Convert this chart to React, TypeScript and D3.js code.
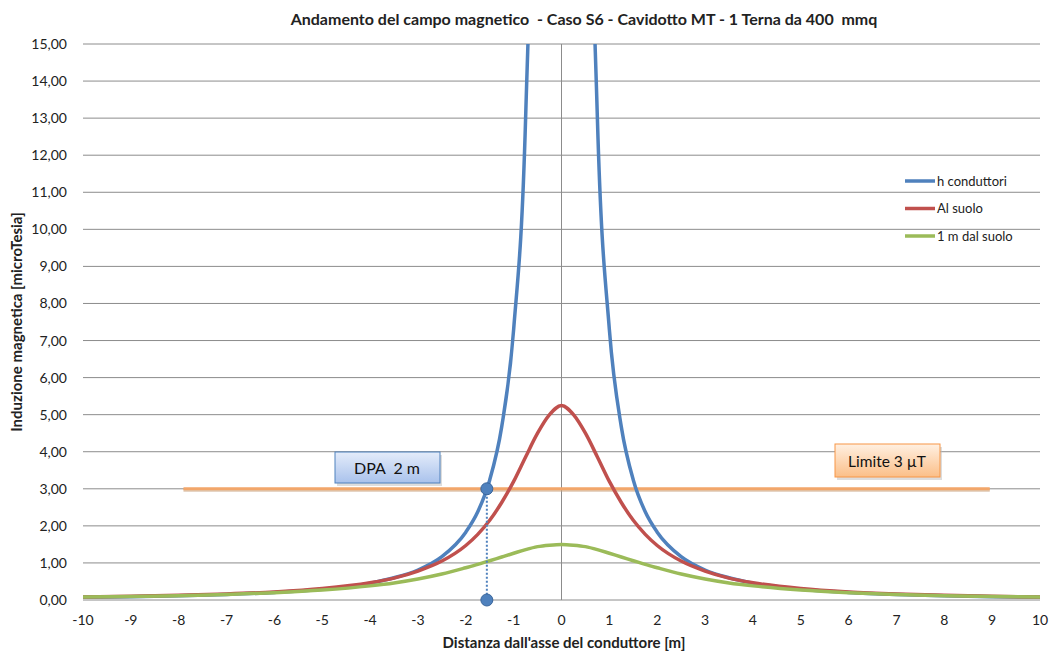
import React from 'react';
import * as d3 from 'd3';

// distance from the cable axis [m]
const xValues = [-10, -9, -8, -7, -6, -5, -4, -3.5, -3, -2.5, -2, -1.75, -1.5, -1.25, -1, -0.75, -0.5, -0.25, 0,
  0.25, 0.5, 0.75, 1, 1.25, 1.5, 1.75, 2, 2.5, 3, 3.5, 4, 5, 6, 7, 8, 9, 10];

// h conduttori (goes off the top near the axis)
const blueHalf = [0.073, 0.09, 0.114, 0.149, 0.203, 0.292, 0.456, 0.6, 0.81, 1.17, 1.83, 2.38, 3.24, 4.67, 7.3, 13.0, 29.2, 117, 400];
// Al suolo
const redHalf = [0.081, 0.099, 0.125, 0.162, 0.218, 0.309, 0.466, 0.59, 0.78, 1.05, 1.47, 1.77, 2.15, 2.63, 3.2, 3.86, 4.5, 5.0, 5.25];
// 1 m dal suolo
const greenHalf = [0.078, 0.095, 0.118, 0.151, 0.198, 0.268, 0.381, 0.46, 0.566, 0.7, 0.87, 0.96, 1.06, 1.16, 1.26, 1.36, 1.44, 1.48, 1.5];

const mirror = (half: number[]) => [...half, ...half.slice(0, -1).reverse()];

const series = [
  { name: 'h conduttori', color: '#4F81BD', values: mirror(blueHalf) },
  { name: 'Al suolo', color: '#C0504D', values: mirror(redHalf) },
  { name: '1 m dal suolo', color: '#9BBB59', values: mirror(greenHalf) },
];

const yTicks = d3.range(0, 16, 1);
const xTicks = d3.range(-10, 11, 1);

const limit = 3;
const limitFrom = -7.9;
const limitTo = 8.95;
const dpaX = -1.56;

const fmt = (v: number) => v.toFixed(2).replace('.', ',');

export default function App() {
  const width = 1051;
  const height = 651;
  const x = d3.scaleLinear().domain([-10, 10]).range([83, 1040]);
  const y = d3.scaleLinear().domain([0, 15]).range([600, 44]);

  const line = d3.line<number>()
    .x((_, i) => x(xValues[i]))
    .y(d => y(d))
    .curve(d3.curveMonotoneX);

  const font = 'Lato, "Open Sans", sans-serif';
  const pre = { whiteSpace: 'pre' as const };

  return (
    <svg width={width} height={height} style={{ position: 'absolute', left: 0, top: 0, background: '#fff' }}
      fontFamily={font}>
      <defs>
        <clipPath id="plot">
          <rect x={x(-10)} y={y(15)} width={x(10) - x(-10)} height={y(0) - y(15)} />
        </clipPath>
        <linearGradient id="blueBox" x1="0" y1="0" x2="0" y2="1">
          <stop offset="0" stopColor="#e4ecfa" />
          <stop offset="1" stopColor="#a9c2ec" />
        </linearGradient>
        <linearGradient id="orangeBox" x1="0" y1="0" x2="0" y2="1">
          <stop offset="0" stopColor="#fff0e2" />
          <stop offset="1" stopColor="#fbbf88" />
        </linearGradient>
      </defs>

      <text x={584} y={25} textAnchor="middle" fontSize={16} fontWeight="bold" fill="#222" style={pre}>
        {'Andamento del campo magnetico  - Caso S6 - Cavidotto MT - 1 Terna da 400  mmq'}
      </text>

      {/* horizontal gridlines */}
      {yTicks.map(t => (
        <line key={t} x1={x(-10)} x2={x(10)} y1={y(t)} y2={y(t)} stroke="#8c8c8c" strokeWidth={1} />
      ))}
      {/* vertical axis at x = 0 */}
      <line x1={x(0)} x2={x(0)} y1={y(15)} y2={y(0)} stroke="#8c8c8c" strokeWidth={1} />

      {yTicks.map(t => (
        <text key={t} x={67} y={y(t) + 5} textAnchor="end" fontSize={14} fill="#222">{fmt(t)}</text>
      ))}
      {xTicks.map(t => (
        <text key={t} x={x(t)} y={625} textAnchor="middle" fontSize={14} fill="#222">{t}</text>
      ))}

      <text x={564} y={648} textAnchor="middle" fontSize={15} fontWeight="bold" fill="#222">
        Distanza dall'asse del conduttore [m]
      </text>
      <text transform={`translate(22,${322}) rotate(-90)`} textAnchor="middle" fontSize={15} fontWeight="bold" fill="#222">
        Induzione magnetica [microTesia]
      </text>

      {/* limit line */}
      <line x1={x(limitFrom)} x2={x(limitTo)} y1={y(limit) + 1.5} y2={y(limit) + 1.5} stroke="#c9a27e" strokeWidth={3} opacity={0.6} />
      <line x1={x(limitFrom)} x2={x(limitTo)} y1={y(limit)} y2={y(limit)} stroke="#F2A66A" strokeWidth={3} />

      <g clipPath="url(#plot)">
        {series.map(s => (
          <path key={s.name} d={line(s.values) || ''} fill="none" stroke={s.color} strokeWidth={3.5} strokeLinejoin="round" />
        ))}
      </g>

      {/* DPA marker */}
      <line x1={x(dpaX)} x2={x(dpaX)} y1={y(limit)} y2={y(0)} stroke="#4F81BD" strokeWidth={2} strokeDasharray="2,2" />
      <circle cx={x(dpaX)} cy={y(limit)} r={6} fill="#4F81BD" stroke="#3a669c" strokeWidth={1} />
      <circle cx={x(dpaX)} cy={y(0)} r={6} fill="#4F81BD" stroke="#3a669c" strokeWidth={1} />

      {/* annotation boxes */}
      <rect x={337} y={455} width={105} height={31} fill="#bbb" opacity={0.5} />
      <rect x={335} y={452} width={105} height={31} fill="url(#blueBox)" stroke="#4F81BD" strokeWidth={1} />
      <text x={387} y={474} textAnchor="middle" fontSize={16} fill="#111" style={pre}>{'DPA  2 m'}</text>

      <rect x={837} y={447} width={105} height={33} fill="#bbb" opacity={0.5} />
      <rect x={835} y={444} width={105} height={33} fill="url(#orangeBox)" stroke="#F79646" strokeWidth={1} />
      <text x={887} y={467} textAnchor="middle" fontSize={15.5} fill="#111">Limite 3 µT</text>

      {/* legend */}
      {series.map((s, i) => (
        <g key={s.name} transform={`translate(905,${181 + i * 27.5})`}>
          <line x1={0} x2={30} y1={0} y2={0} stroke={s.color} strokeWidth={3.5} />
          <text x={32} y={4.5} fontSize={13} fill="#222">{s.name}</text>
        </g>
      ))}
    </svg>
  );
}
